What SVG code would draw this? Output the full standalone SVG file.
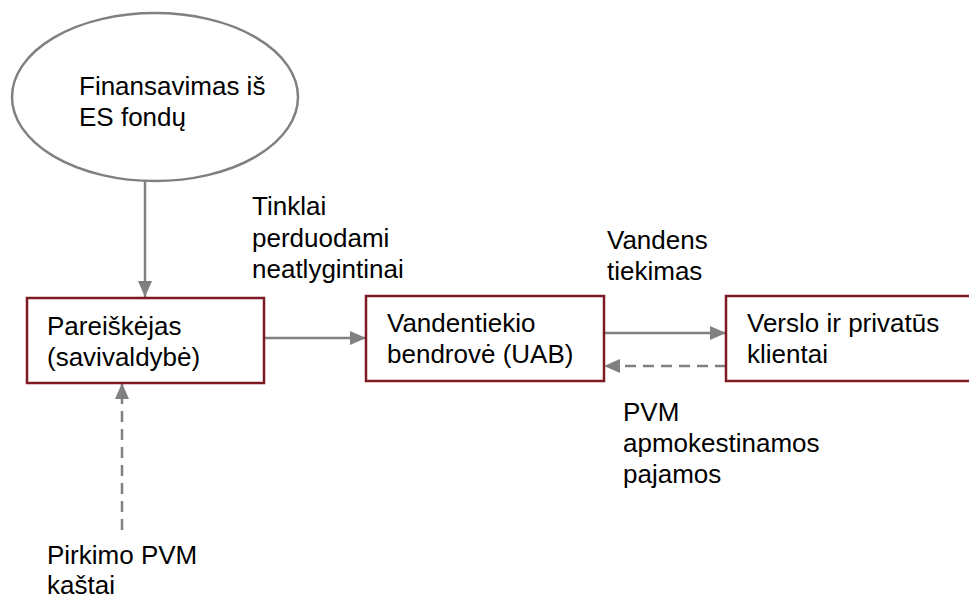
<svg xmlns="http://www.w3.org/2000/svg" width="969" height="599" viewBox="0 0 969 599">
<style>
text{font-family:"Liberation Sans",Arial,sans-serif;font-size:26px;fill:#000}
.box{fill:#fff;stroke:#7b1a22;stroke-width:2.5}
.ell{fill:#fff;stroke:#808080;stroke-width:2.5}
.c{fill:none;stroke:#808080;stroke-width:2.5}
.d{stroke-dasharray:11 7}
</style>
<defs>
<marker id="ah" viewBox="0 0 16 14" refX="16" refY="7" markerWidth="16" markerHeight="14" markerUnits="userSpaceOnUse" orient="auto">
<path d="M0,0 L16,7 L0,14 Z" fill="#808080"/>
</marker>
</defs>
<rect width="969" height="599" fill="#fff"/>
<g id="connectors">
<line class="c" x1="145" y1="181" x2="145" y2="297" marker-end="url(#ah)"/>
<line class="c" x1="264" y1="338" x2="366" y2="338" marker-end="url(#ah)"/>
<line class="c" x1="604" y1="333" x2="726" y2="333" marker-end="url(#ah)"/>
<line class="c d" x1="726" y1="366" x2="604" y2="366" marker-end="url(#ah)"/>
<line class="c d" x1="122" y1="530" x2="122" y2="383" marker-end="url(#ah)"/>
</g>
<g id="node-es">
<ellipse class="ell" cx="155" cy="97" rx="143" ry="84"/>
<text x="79" y="95">Finansavimas iš</text>
<text x="79" y="126">ES fondų</text>
</g>
<g id="node-pareiskejas">
<rect class="box" x="27" y="298" width="237" height="85"/>
<text x="47" y="335">Pareiškėjas</text>
<text x="47" y="366">(savivaldybė)</text>
</g>
<g id="node-vandentiekio">
<rect class="box" x="366" y="296" width="238" height="85"/>
<text x="387" y="332">Vandentiekio</text>
<text x="387" y="363">bendrovė (UAB)</text>
</g>
<g id="node-klientai">
<rect class="box" x="726" y="296" width="260" height="85"/>
<text x="747" y="332">Verslo ir privatūs</text>
<text x="747" y="363">klientai</text>
</g>
<g id="labels">
<text x="252" y="215">Tinklai</text>
<text x="252" y="247">perduodami</text>
<text x="252" y="278">neatlygintinai</text>
<text x="607" y="249">Vandens</text>
<text x="607" y="280">tiekimas</text>
<text x="623" y="421">PVM</text>
<text x="623" y="452">apmokestinamos</text>
<text x="623" y="483">pajamos</text>
<text x="47" y="564">Pirkimo PVM</text>
<text x="47" y="594">kaštai</text>
</g>
</svg>
